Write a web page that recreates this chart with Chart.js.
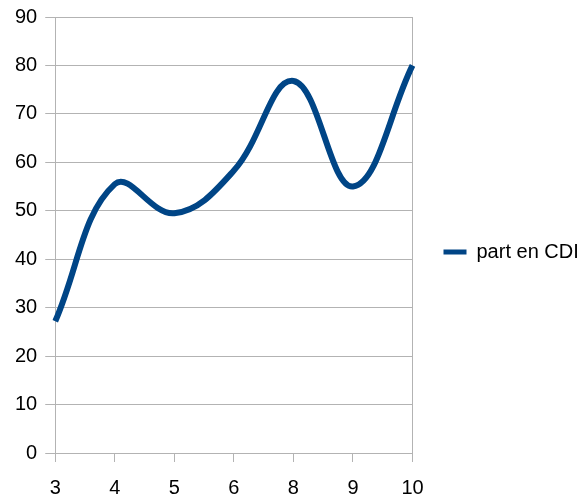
<!DOCTYPE html>
<html>
<head>
<meta charset="utf-8">
<script src="https://cdn.jsdelivr.net/npm/chart.js@4"></script>
<style>
  html, body { margin: 0; padding: 0; background: #fff; }
  #wrap { width: 581px; height: 497px; }
</style>
</head>
<body>
<div id="wrap"><canvas id="chart"></canvas></div>
<script>
// data
const categories = ['3', '4', '5', '6', '8', '9', '10'];
const partCDI = [27.2, 55.5, 49.5, 58.3, 76.8, 55, 80];
const seriesName = 'part en CDI';

const grey = '#b3b3b3';
const blue = '#004586';
const legendGap = 25; // extra space between plot and legend
const legendLift = 5;

// widen the legend box without moving its items
const legendSpacer = {
  id: 'legendSpacer',
  afterInit(chart) {
    const lg = chart.legend;
    const fit = lg.fit.bind(lg);
    lg.fit = function () { fit(); this.width += legendGap; };
    const draw = lg.draw.bind(lg);
    lg.draw = function () {
      this.left += legendGap; this.top -= legendLift; this.bottom -= legendLift;
      draw();
      this.left -= legendGap; this.top += legendLift; this.bottom += legendLift;
    };
  }
};

const ctx = document.getElementById('chart');

new Chart(ctx, {
  type: 'line',
  data: {
    labels: categories,
    datasets: [{
      label: seriesName,
      data: partCDI,
      borderColor: blue,
      backgroundColor: blue,
      borderWidth: 6,
      pointRadius: 0,
      tension: 0.4,
      fill: false
    }]
  },
  plugins: [legendSpacer],
  options: {
    responsive: true,
    maintainAspectRatio: false,
    animation: false,
    layout: { padding: { top: 0, right: 0, bottom: -17, left: 7 } },
    plugins: {
      tooltip: { enabled: false },
      legend: {
        position: 'right',
        labels: {
          boxWidth: 23,
          boxHeight: 5,
          padding: 6,
          color: '#000',
          font: { family: 'Liberation Sans', size: 20 },
          generateLabels: chart => chart.data.datasets.map((ds, i) => ({
            text: ds.label,
            fillStyle: ds.borderColor,
            strokeStyle: ds.borderColor,
            lineWidth: 0,
            hidden: false,
            datasetIndex: i
          }))
        }
      }
    },
    scales: {
      x: {
        offset: false,
        grid: {
          color: c => (c.index === 0 || c.index === categories.length - 1) ? grey : 'rgba(0,0,0,0)',
          tickColor: grey,
          tickLength: 9,
          lineWidth: 1
        },
        border: { color: grey },
        ticks: {
          color: '#000',
          padding: 17,
          maxRotation: 0,
          font: { family: 'Liberation Sans', size: 20, lineHeight: 0.9 }
        }
      },
      y: {
        min: 0,
        max: 90,
        grid: {
          color: grey,
          tickColor: grey,
          tickLength: 10
        },
        border: { color: grey },
        ticks: {
          stepSize: 10,
          color: '#000',
          padding: 8,
          font: { family: 'Liberation Sans', size: 20, lineHeight: 0.9 }
        }
      }
    }
  }
});
</script>
</body>
</html>
